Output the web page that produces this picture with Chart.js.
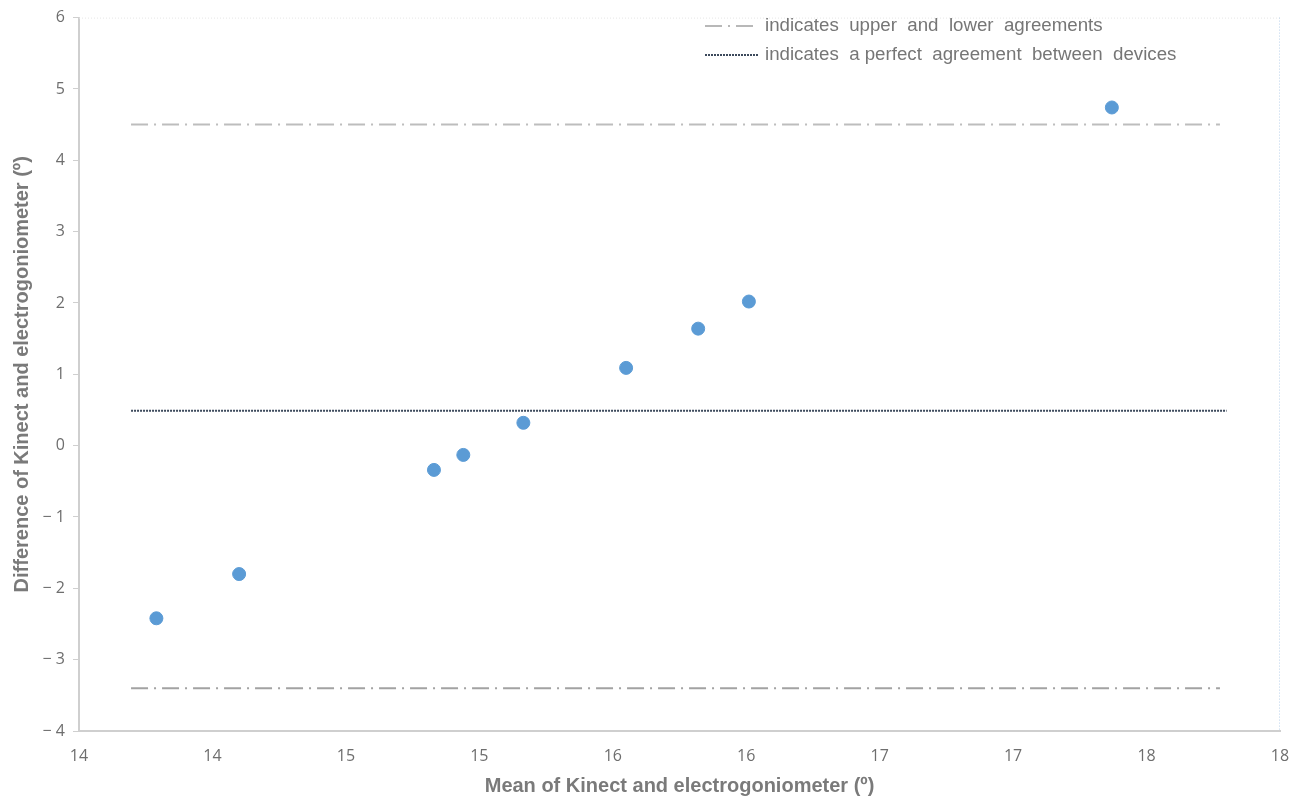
<!DOCTYPE html>
<html>
<head>
<meta charset="utf-8">
<script src="https://cdn.jsdelivr.net/npm/chart.js@4/dist/chart.umd.min.js"></script>
<style>
  html, body { margin: 0; padding: 0; background: #fff; }
  #wrap { width: 1300px; height: 798px; }
</style>
</head>
<body>
<div id="wrap"><canvas id="bland"></canvas></div>
<script>
// Bland-Altman data
const meanValues = [13.79, 14.10, 14.83, 14.94, 15.165, 15.55, 15.82, 16.01, 17.37];
const diffValues = [-2.42, -1.80, -0.34, -0.13, 0.32, 1.09, 1.64, 2.02, 4.74];

const limitX = [13.695, 17.775];
const upperLimit = 4.5;
const lowerLimit = -3.4;
const meanDiff = 0.49;
const meanX = [13.695, 17.8];

const xTitle = 'Mean of Kinect and electrogoniometer (º)';
const yTitle = 'Difference of Kinect and electrogoniometer (º)';
const legendTexts = ['indicates  upper  and  lower  agreements', 'indicates  a perfect  agreement  between  devices'];

const tickFont = "'Open Sans', sans-serif";
const titleFont = "'Liberation Sans', Arial, sans-serif";

// frame lines + legend
const extras = {
  id: 'extras',
  afterDraw(chart) {
    const { ctx, chartArea: a } = chart;
    ctx.save();
    // faint top border
    ctx.strokeStyle = '#e6e6e6';
    ctx.lineWidth = 1;
    ctx.setLineDash([1, 2]);
    ctx.beginPath();
    ctx.moveTo(a.left, a.top + 0.5);
    ctx.lineTo(a.right, a.top + 0.5);
    ctx.stroke();
    // light blue right border
    ctx.strokeStyle = '#bcd3ec';
    ctx.beginPath();
    ctx.moveTo(a.right - 0.5, a.top);
    ctx.lineTo(a.right - 0.5, a.bottom);
    ctx.stroke();

    // legend
    ctx.font = '18.7px ' + titleFont;
    ctx.fillStyle = '#767676';
    ctx.textBaseline = 'middle';
    ctx.setLineDash([17, 6, 2, 6]);
    ctx.strokeStyle = '#b8b8b8';
    ctx.lineWidth = 2;
    ctx.beginPath();
    ctx.moveTo(705, 26);
    ctx.lineTo(757, 26);
    ctx.stroke();
    ctx.fillText(legendTexts[0], 765, 26);
    ctx.setLineDash([2, 1]);
    ctx.strokeStyle = '#3d4a5c';
    ctx.beginPath();
    ctx.moveTo(705, 55);
    ctx.lineTo(759, 55);
    ctx.stroke();
    ctx.fillText(legendTexts[1], 765, 55);
    ctx.restore();
  }
};

const toPts = (xs, y) => xs.map(x => ({ x: x, y: y }));

new Chart(document.getElementById('bland'), {
  type: 'scatter',
  data: {
    datasets: [
      {
        label: 'upper',
        data: toPts(limitX, upperLimit),
        showLine: true,
        borderColor: '#bdbdbd',
        borderWidth: 2,
        borderDash: [17, 6, 2, 6],
        pointRadius: 0
      },
      {
        label: 'lower',
        data: toPts(limitX, lowerLimit),
        showLine: true,
        borderColor: '#a2a2a2',
        borderWidth: 2,
        borderDash: [17, 6, 2, 6],
        pointRadius: 0
      },
      {
        label: 'mean',
        data: toPts(meanX, meanDiff),
        showLine: true,
        borderColor: '#3d4a5c',
        borderWidth: 2,
        borderDash: [2, 1],
        pointRadius: 0
      },
      {
        label: 'points',
        data: meanValues.map((m, i) => ({ x: m, y: diffValues[i] })),
        backgroundColor: '#5b9bd5',
        borderColor: '#5b9bd5',
        pointRadius: 6.5,
        pointHoverRadius: 6.5
      }
    ]
  },
  options: {
    responsive: true,
    maintainAspectRatio: false,
    animation: false,
    layout: { padding: { top: 17, right: 20, left: 0, bottom: -4 } },
    plugins: {
      legend: { display: false },
      tooltip: { enabled: false }
    },
    scales: {
      x: {
        type: 'linear',
        min: 13.5,
        max: 18,
        afterUpdate: s => {},
        ticks: {
          stepSize: 0.5,
          color: '#6e6e6e',
          font: { family: tickFont, size: 16 },
          padding: 16,
          callback: v => Math.round(v)
        },
        grid: { display: false, drawTicks: false },
        border: { color: '#cfcfcf', width: 2 },
        title: {
          display: true,
          text: xTitle,
          color: '#7a7a7a',
          font: { family: titleFont, size: 20, weight: 'bold' },
          padding: { top: 4 }
        },
        afterFit: s => { s.height = 71; s.paddingRight = 0; }
      },
      y: {
        min: -4,
        max: 6,
        ticks: {
          stepSize: 1,
          color: '#6e6e6e',
          font: { family: tickFont, size: 16 },
          padding: 8,
          callback: v => v < 0 ? '\u2212 ' + Math.abs(v) : v
        },
        grid: { drawOnChartArea: false, tickLength: 6, color: '#cfcfcf' },
        border: { color: '#cfcfcf', width: 2 },
        title: {
          display: true,
          text: yTitle,
          color: '#7a7a7a',
          font: { family: titleFont, size: 20, weight: 'bold' },
          padding: { top: 10, bottom: 0 }
        },
        afterFit: s => { s.width = 79; }
      }
    }
  },
  plugins: [extras]
});
</script>
</body>
</html>
